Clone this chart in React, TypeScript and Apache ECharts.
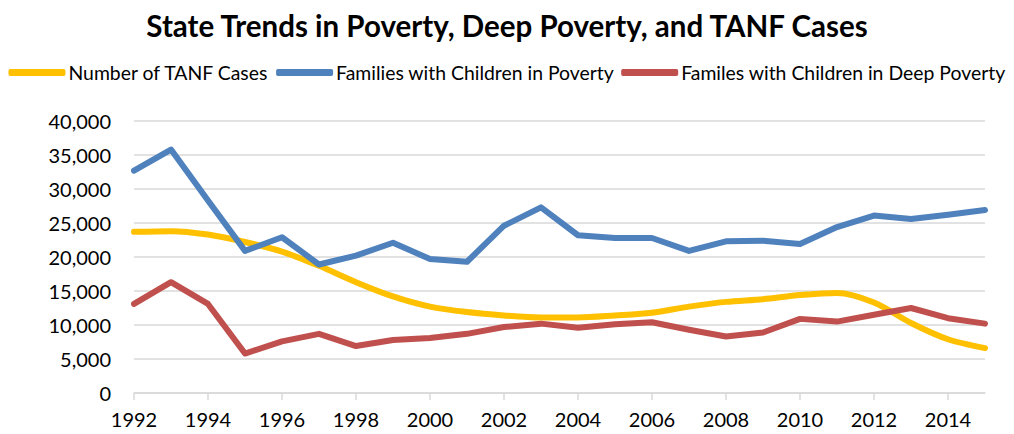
import React, { useEffect, useRef } from "react";
import * as echarts from "echarts";

const years = [
  "1992", "1993", "1994", "1995", "1996", "1997", "1998", "1999", "2000", "2001", "2002", "2003",
  "2004", "2005", "2006", "2007", "2008", "2009", "2010", "2011", "2012", "2013", "2014", "2015",
];
const tanfCases = [
  23700, 23800, 23300, 22200, 20800, 18700, 16300, 14200, 12700, 11900, 11400, 11100,
  11100, 11400, 11800, 12700, 13400, 13800, 14400, 14700, 13300, 10300, 7900, 6600,
];
const povertyFamilies = [
  32700, 35800, 28300, 20900, 22900, 18900, 20200, 22100, 19700, 19300, 24600, 27300,
  23200, 22800, 22800, 20900, 22300, 22400, 21900, 24400, 26100, 25600, 26200, 26900,
];
const deepPovertyFamilies = [
  13100, 16300, 13100, 5800, 7600, 8700, 6900, 7800, 8100, 8700, 9700, 10200,
  9600, 10100, 10400, 9300, 8300, 8900, 10900, 10500, 11500, 12500, 11000, 10200,
];
const seriesNames = [
  "Number of TANF Cases",
  "Families with Children in Poverty",
  "Familes with Children in Deep Poverty",
];
const titleText = "State Trends in Poverty, Deep Poverty, and TANF Cases";

export default function App() {
  const ref = useRef<HTMLDivElement>(null);
  useEffect(() => {
    if (!ref.current) return;
    const chart = echarts.init(ref.current, undefined, { renderer: "svg" });
    const font = "Lato";
    chart.setOption({
      animation: false,
      backgroundColor: "#ffffff",
      title: {
        text: titleText,
        left: "center",
        top: 5,
        textStyle: { fontFamily: font, fontWeight: "bold", fontSize: 29.5, color: "#000000" },
      },
      legend: {
        data: seriesNames.map((n) => ({ name: n, icon: "roundRect" })),
        left: "center",
        top: 58,
        itemWidth: 57,
        itemHeight: 7,
        itemGap: 7,
        textStyle: { fontFamily: font, fontSize: 19.4, color: "#000000", padding: [0, 0, 0, -2] },
      },
      grid: { left: 134, right: 29, top: 121, bottom: 41, containLabel: false },
      xAxis: {
        type: "category",
        data: years,
        boundaryGap: false,
        axisLine: { lineStyle: { color: "#d9d9d9", width: 1.5 } },
        axisTick: { show: true, length: 7, interval: 1, lineStyle: { color: "#d9d9d9", width: 1.5 } },
        axisLabel: { interval: 1, fontFamily: font, fontSize: 20, color: "#000000", margin: 16 },
        splitLine: { show: false },
      },
      yAxis: {
        type: "value",
        min: 0,
        max: 40000,
        interval: 5000,
        axisLine: { show: false },
        axisTick: { show: false },
        axisLabel: {
          fontFamily: font,
          fontSize: 20,
          color: "#000000",
          margin: 23,
          formatter: (v: number) => v.toLocaleString("en-US"),
        },
        splitLine: { lineStyle: { color: "#d9d9d9", width: 1.5 } },
      },
      series: [
        {
          name: seriesNames[0],
          type: "line",
          data: tanfCases,
          smooth: 0.3,
          symbol: "none",
          color: "#FFC000",
          lineStyle: { width: 6, color: "#FFC000", cap: "round", join: "round" },
        },
        {
          name: seriesNames[1],
          type: "line",
          data: povertyFamilies,
          symbol: "none",
          color: "#4F81BD",
          lineStyle: { width: 6, color: "#4F81BD", cap: "round", join: "round" },
        },
        {
          name: seriesNames[2],
          type: "line",
          data: deepPovertyFamilies,
          symbol: "none",
          color: "#C0504D",
          lineStyle: { width: 6, color: "#C0504D", cap: "round", join: "round" },
        },
      ],
    });
    return () => chart.dispose();
  }, []);
  return <div ref={ref} style={{ width: 1014, height: 434, position: "absolute", left: 0, top: 0 }} />;
}
